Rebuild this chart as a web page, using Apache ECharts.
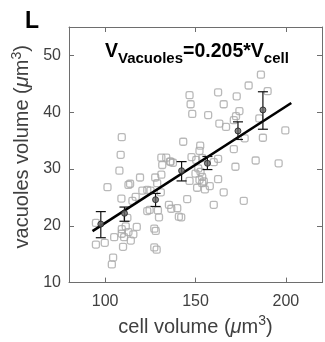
<!DOCTYPE html>
<html>
<head>
<meta charset="utf-8">
<script src="https://cdn.jsdelivr.net/npm/echarts@6/dist/echarts.min.js"></script>
<style>
  html, body { margin: 0; padding: 0; background: #fff; }
  #chart { width: 325px; height: 342px; }
</style>
</head>
<body>
<div id="chart"></div>
<script>
// cell volume vs vacuole volume, single cells (gray squares)
var cellVol = [
  94.9, 94.9, 99.8, 101.3, 105.0, 104.4, 103.7, 109.2, 108.6, 107.9,
  109.0, 112.9, 113.8, 109.2, 111.4, 109.2, 110.5, 112.9, 115.6, 114.2,
  117.5, 109.9, 116.9, 115.1, 119.3, 120.6, 123.3, 124.6, 123.3, 112.3,
  125.1, 127.7, 128.8, 131.1, 133.8, 135.9, 131.6, 131.1, 135.3, 136.6,
  129.2, 129.8, 127.2, 128.0, 127.2, 128.5, 136.2, 137.5, 139.9, 140.8,
  142.1, 143.2, 145.4, 130.8,
  146.7, 147.3, 148.2, 147.8, 150.4, 153.7, 152.6, 152.2, 150.0, 151.5,
  152.8, 153.7, 152.2, 154.6, 153.7, 157.9, 155.2, 150.9, 146.7, 157.0,
  162.5, 165.6, 163.2, 166.9, 162.5, 160.1, 162.5, 165.6, 160.1, 172.8,
  174.3, 172.4, 171.2, 171.2, 172.1, 176.7, 177.2, 179.4, 183.3, 186.2,
  189.9, 185.3, 187.3, 196.0, 199.7
];
var vacVol = [
  20.5, 16.7, 17.0, 26.8, 18.0, 14.4, 13.2, 35.6, 32.5, 29.7,
  24.8, 27.2, 27.4, 19.4, 19.9, 18.6, 18.0, 18.9, 18.5, 17.4,
  19.8, 16.3, 25.1, 24.4, 28.5, 26.2, 26.3, 22.8, 22.6, 21.4,
  26.2, 28.5, 27.5, 32.0, 32.0, 31.3, 30.7, 29.0, 23.7, 23.0,
  22.7, 21.5, 19.5, 19.1, 16.2, 15.8, 31.3, 31.1, 23.1, 21.6,
  21.5, 34.8, 24.7, 25.9,
  43.0, 41.4, 39.7, 32.1, 31.6, 31.9, 34.1, 33.2, 29.2, 30.1,
  29.5, 28.6, 28.1, 27.8, 27.5, 27.0, 26.4, 26.7, 27.9, 39.5,
  43.5, 41.4, 38.0, 37.4, 31.8, 31.2, 28.2, 25.9, 23.7, 42.8,
  40.2, 39.3, 38.6, 33.5, 30.4, 24.4, 35.4, 44.7, 31.5, 46.6,
  43.7, 38.9, 35.5, 31.0, 36.8
];

// binned means with error bars
var binX = [97.6, 110.7, 127.9, 142.3, 156.6, 173.5, 187.3];
var binY = [20.3, 22.2, 24.6, 29.7, 31.0, 36.7, 40.4];
var binLow = [17.9, 20.8, 23.4, 27.9, 29.9, 35.2, 37.0];
var binHigh = [22.5, 23.3, 25.7, 31.3, 32.2, 38.3, 43.6];

// fit V_vac = 0.205 * V_cell
var fitSlope = 0.205;
var fitX = [93, 203];

var xTicks = [100, 150, 200];
var yTicks = [10, 20, 30, 40, 50];

var font = 'Liberation Sans, Arial, sans-serif';
var textColor = '#404040';
var frameColor = '#6e6e6e';

var scatterData = cellVol.map(function(x, i) { return [x, vacVol[i]]; });
var meanData = binX.map(function(x, i) { return [x, binY[i]]; });
var errData = binX.map(function(x, i) { return [x, binLow[i], binHigh[i]]; });
var fitData = fitX.map(function(x) { return [x, fitSlope * x]; });

var chart = echarts.init(document.getElementById('chart'), null, { renderer: 'canvas' });

var frameLine = { show: true, onZero: false, lineStyle: { color: frameColor, width: 1 } };
function ticks(vals) {
  return { show: true, inside: true, length: 5, customValues: vals, lineStyle: { color: frameColor } };
}
var nameRich = {
  a: { fontFamily: font, fontSize: 20, color: textColor },
  i: { fontFamily: font, fontSize: 20, fontStyle: 'italic', color: textColor },
  p: { fontFamily: font, fontSize: 14, color: textColor, padding: [0, 0, 11, 0] }
};

chart.setOption({
  animation: false,
  backgroundColor: '#fff',
  title: [
    {
      text: 'L',
      left: 20, top: 5,
      textStyle: { fontFamily: font, fontSize: 23, fontWeight: 'bold', color: '#000' }
    },
    {
      text: '{v|V}{s|Vacuoles}{v|=0.205*V}{s|cell}',
      left: 100, top: 33,
      textStyle: {
        rich: {
          v: { fontFamily: font, fontSize: 19.5, fontWeight: 'bold', color: '#000' },
          s: { fontFamily: font, fontSize: 15, fontWeight: 'bold', color: '#000', padding: [13, 0, 0, 0] }
        }
      }
    }
  ],
  grid: { left: 69, right: 3, top: 27, bottom: 59 },
  xAxis: [
    {
      type: 'value', min: 80, max: 220, position: 'bottom',
      axisLine: frameLine, axisTick: ticks(xTicks), splitLine: { show: false },
      axisLabel: { customValues: xTicks, margin: 11, fontFamily: font, fontSize: 16, color: textColor },
      name: '{a|cell volume (}{i|\u03bc}{a|m}{p|3}{a|)}',
      nameLocation: 'middle',
      nameGap: 30,
      nameTextStyle: { rich: nameRich }
    },
    {
      type: 'value', min: 80, max: 220, position: 'top',
      axisLine: frameLine, axisTick: ticks(xTicks), splitLine: { show: false },
      axisLabel: { show: false }
    }
  ],
  yAxis: [
    {
      type: 'value', min: 10, max: 55, position: 'left',
      axisLine: frameLine, axisTick: ticks(yTicks), splitLine: { show: false },
      axisLabel: { customValues: yTicks, margin: 8, fontFamily: font, fontSize: 16, color: textColor },
      name: '{a|vacuoles volume (}{i|\u03bc}{a|m}{p|3}{a|)}',
      nameLocation: 'middle',
      nameRotate: 90,
      nameGap: 30,
      nameTextStyle: { padding: [0, 0, 0, 16], rich: nameRich }
    },
    {
      type: 'value', min: 10, max: 55, position: 'right',
      axisLine: frameLine, axisTick: ticks(yTicks), splitLine: { show: false },
      axisLabel: { show: false }
    }
  ],
  series: [
    {
      type: 'scatter',
      data: scatterData,
      symbol: 'roundRect',
      symbolSize: 7,
      itemStyle: { color: 'rgba(255,255,255,0)', borderColor: '#a8a8a8', borderWidth: 1.3 },
      z: 2
    },
    {
      type: 'line',
      data: fitData,
      symbol: 'none',
      lineStyle: { color: '#000', width: 2.6 },
      z: 3
    },
    {
      type: 'custom',
      data: errData,
      renderItem: function(params, api) {
        var x = api.value(0);
        var lo = api.coord([x, api.value(1)]);
        var hi = api.coord([x, api.value(2)]);
        var cap = 5;
        var st = { stroke: '#111', lineWidth: 1.2 };
        return {
          type: 'group',
          children: [
            { type: 'line', shape: { x1: lo[0], y1: lo[1], x2: hi[0], y2: hi[1] }, style: st },
            { type: 'line', shape: { x1: lo[0] - cap, y1: lo[1], x2: lo[0] + cap, y2: lo[1] }, style: st },
            { type: 'line', shape: { x1: hi[0] - cap, y1: hi[1], x2: hi[0] + cap, y2: hi[1] }, style: st }
          ]
        };
      },
      z: 4
    },
    {
      type: 'scatter',
      data: meanData,
      symbol: 'circle',
      symbolSize: 6,
      itemStyle: { color: '#666', borderColor: '#222', borderWidth: 1 },
      z: 5
    }
  ]
});
</script>
</body>
</html>
